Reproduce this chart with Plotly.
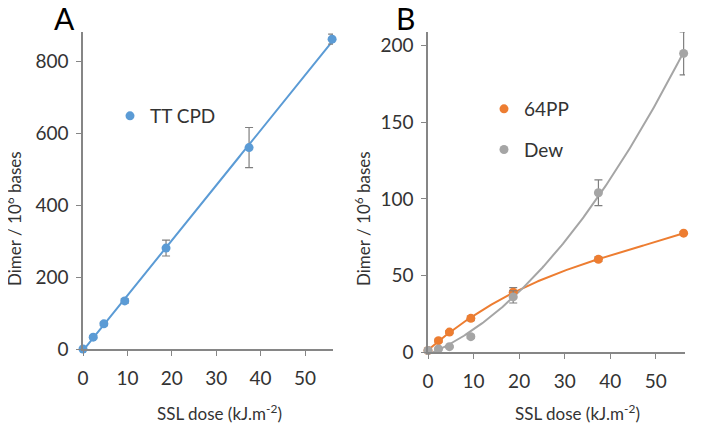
import numpy as np
import plotly.graph_objects as go

# ---- data ----
dose = [0, 2.3, 4.7, 9.4, 18.7, 37.4, 56.1]
tt_cpd = [0, 33, 70, 134, 281, 561, 863]
tt_cpd_err = [0, 4, 5, 6, 22, 56, 14]
pp64 = [1, 7.4, 13, 22, 39, 60.6, 77.6]
pp64_err = [0, 1, 1, 1.5, 3, 1.5, 1]
dew = [1, 2, 3.5, 10, 36, 104, 195]
dew_err = [0, 0.5, 0.5, 1, 4, 8.4, 14]
x_ticks = [0, 10, 20, 30, 40, 50]
yA_ticks = [0, 200, 400, 600, 800]
yB_ticks = [0, 50, 100, 150, 200]

BLUE = "#5B9BD5"
ORANGE = "#ED7D31"
GRAY = "#A5A5A5"
ERRC = "#7F7F7F"
FONT = "Lato"
OFF = 8            # default page body margin
W, H = 717 - OFF, 424 - OFF

fig = go.Figure()

xfit = np.linspace(0, max(dose), 200)

def fit(y, deg):
    c = np.polyfit(dose, y, deg)
    return np.polyval(c, xfit)

# Panel A
fig.add_trace(go.Scatter(x=xfit, y=fit(tt_cpd, 1), mode="lines",
                         line=dict(color=BLUE, width=2), showlegend=False,
                         xaxis="x", yaxis="y", cliponaxis=False))
fig.add_trace(go.Scatter(x=dose, y=tt_cpd, mode="markers", name="TT CPD",
                         marker=dict(color=BLUE, size=9),
                         error_y=dict(type="data", array=tt_cpd_err, color=ERRC, thickness=1.2, width=4),
                         xaxis="x", yaxis="y", legend="legend", legendgroup="a", cliponaxis=False))

# Panel B
fig.add_trace(go.Scatter(x=xfit, y=fit(pp64, 3), mode="lines",
                         line=dict(color=ORANGE, width=2), showlegend=False,
                         xaxis="x2", yaxis="y2", cliponaxis=False))
fig.add_trace(go.Scatter(x=xfit, y=fit(dew, 2), mode="lines",
                         line=dict(color=GRAY, width=2), showlegend=False,
                         xaxis="x2", yaxis="y2", cliponaxis=False))
fig.add_trace(go.Scatter(x=dose, y=pp64, mode="markers", name="64PP",
                         marker=dict(color=ORANGE, size=9),
                         error_y=dict(type="data", array=pp64_err, color=ERRC, thickness=1.2, width=4),
                         xaxis="x2", yaxis="y2", legend="legend2", legendgroup="b", cliponaxis=False))
fig.add_trace(go.Scatter(x=dose, y=dew, mode="markers", name="Dew",
                         marker=dict(color=GRAY, size=9),
                         error_y=dict(type="data", array=dew_err, color=ERRC, thickness=1.2, width=4),
                         xaxis="x2", yaxis="y2", legend="legend2", legendgroup="c", cliponaxis=False))

axis_common = dict(showgrid=False, zeroline=False, showline=True, linecolor="#868686",
                   linewidth=1.5, ticks="outside", ticklen=5, tickcolor="#868686",
                   tickwidth=1.2, automargin=False,
                   tickfont=dict(family=FONT, size=19, color="#333333"))
title_font = dict(family=FONT, size=17, color="#333333")

xtitle = "SSL dose (kJ.m<sup>-2</sup>)"
ytitle = "Dimer / 10<sup>6</sup> bases"

def px(x):
    return (x - OFF) / W

def py(y):
    return 1 - (y - OFF) / H

def label(text, x, y, font, angle=0):
    return dict(text=text, x=px(x), y=py(y), xref="paper", yref="paper", showarrow=False,
                xanchor="center", yanchor="middle", textangle=angle, font=font)

fig.update_layout(
    width=W, height=H,
    margin=dict(l=0, r=0, t=0, b=0),
    paper_bgcolor="white", plot_bgcolor="white",
    font=dict(family=FONT, color="#333333"),
    xaxis=dict(domain=[px(83), px(333)], range=[0, 56.3], tickvals=x_ticks,
               anchor="y", ticklabelstandoff=6, **axis_common),
    yaxis=dict(domain=[py(349), py(32)], range=[0, 883], tickvals=yA_ticks,
               anchor="x", ticklabelstandoff=4, **axis_common),
    xaxis2=dict(domain=[px(428), px(685)], range=[0, 56.4], tickvals=x_ticks,
                anchor="y2", ticklabelstandoff=6, **axis_common),
    yaxis2=dict(domain=[py(352), py(32)], range=[0, 209], tickvals=yB_ticks,
                anchor="x2", ticklabelstandoff=4, **axis_common),
    legend=dict(x=px(110), y=py(97), xanchor="left", yanchor="top",
                bgcolor="rgba(0,0,0,0)", font=dict(family=FONT, size=19, color="#333333"),
                itemwidth=30),
    legend2=dict(x=px(484), y=py(90), xanchor="left", yanchor="top",
                 bgcolor="rgba(0,0,0,0)", font=dict(family=FONT, size=19, color="#333333"),
                 itemwidth=30, tracegroupgap=13, traceorder="grouped"),
    annotations=[
        label("A", 64, 18, dict(family=FONT, size=30, color="black")),
        label("B", 405, 18, dict(family=FONT, size=30, color="black")),
        label(xtitle, 220, 412, title_font),
        label(xtitle, 577, 412, title_font),
        label(ytitle, 13, 219, title_font, -90),
        label(ytitle, 362, 219, title_font, -90),
    ],
)

fig.write_html("out.html")
